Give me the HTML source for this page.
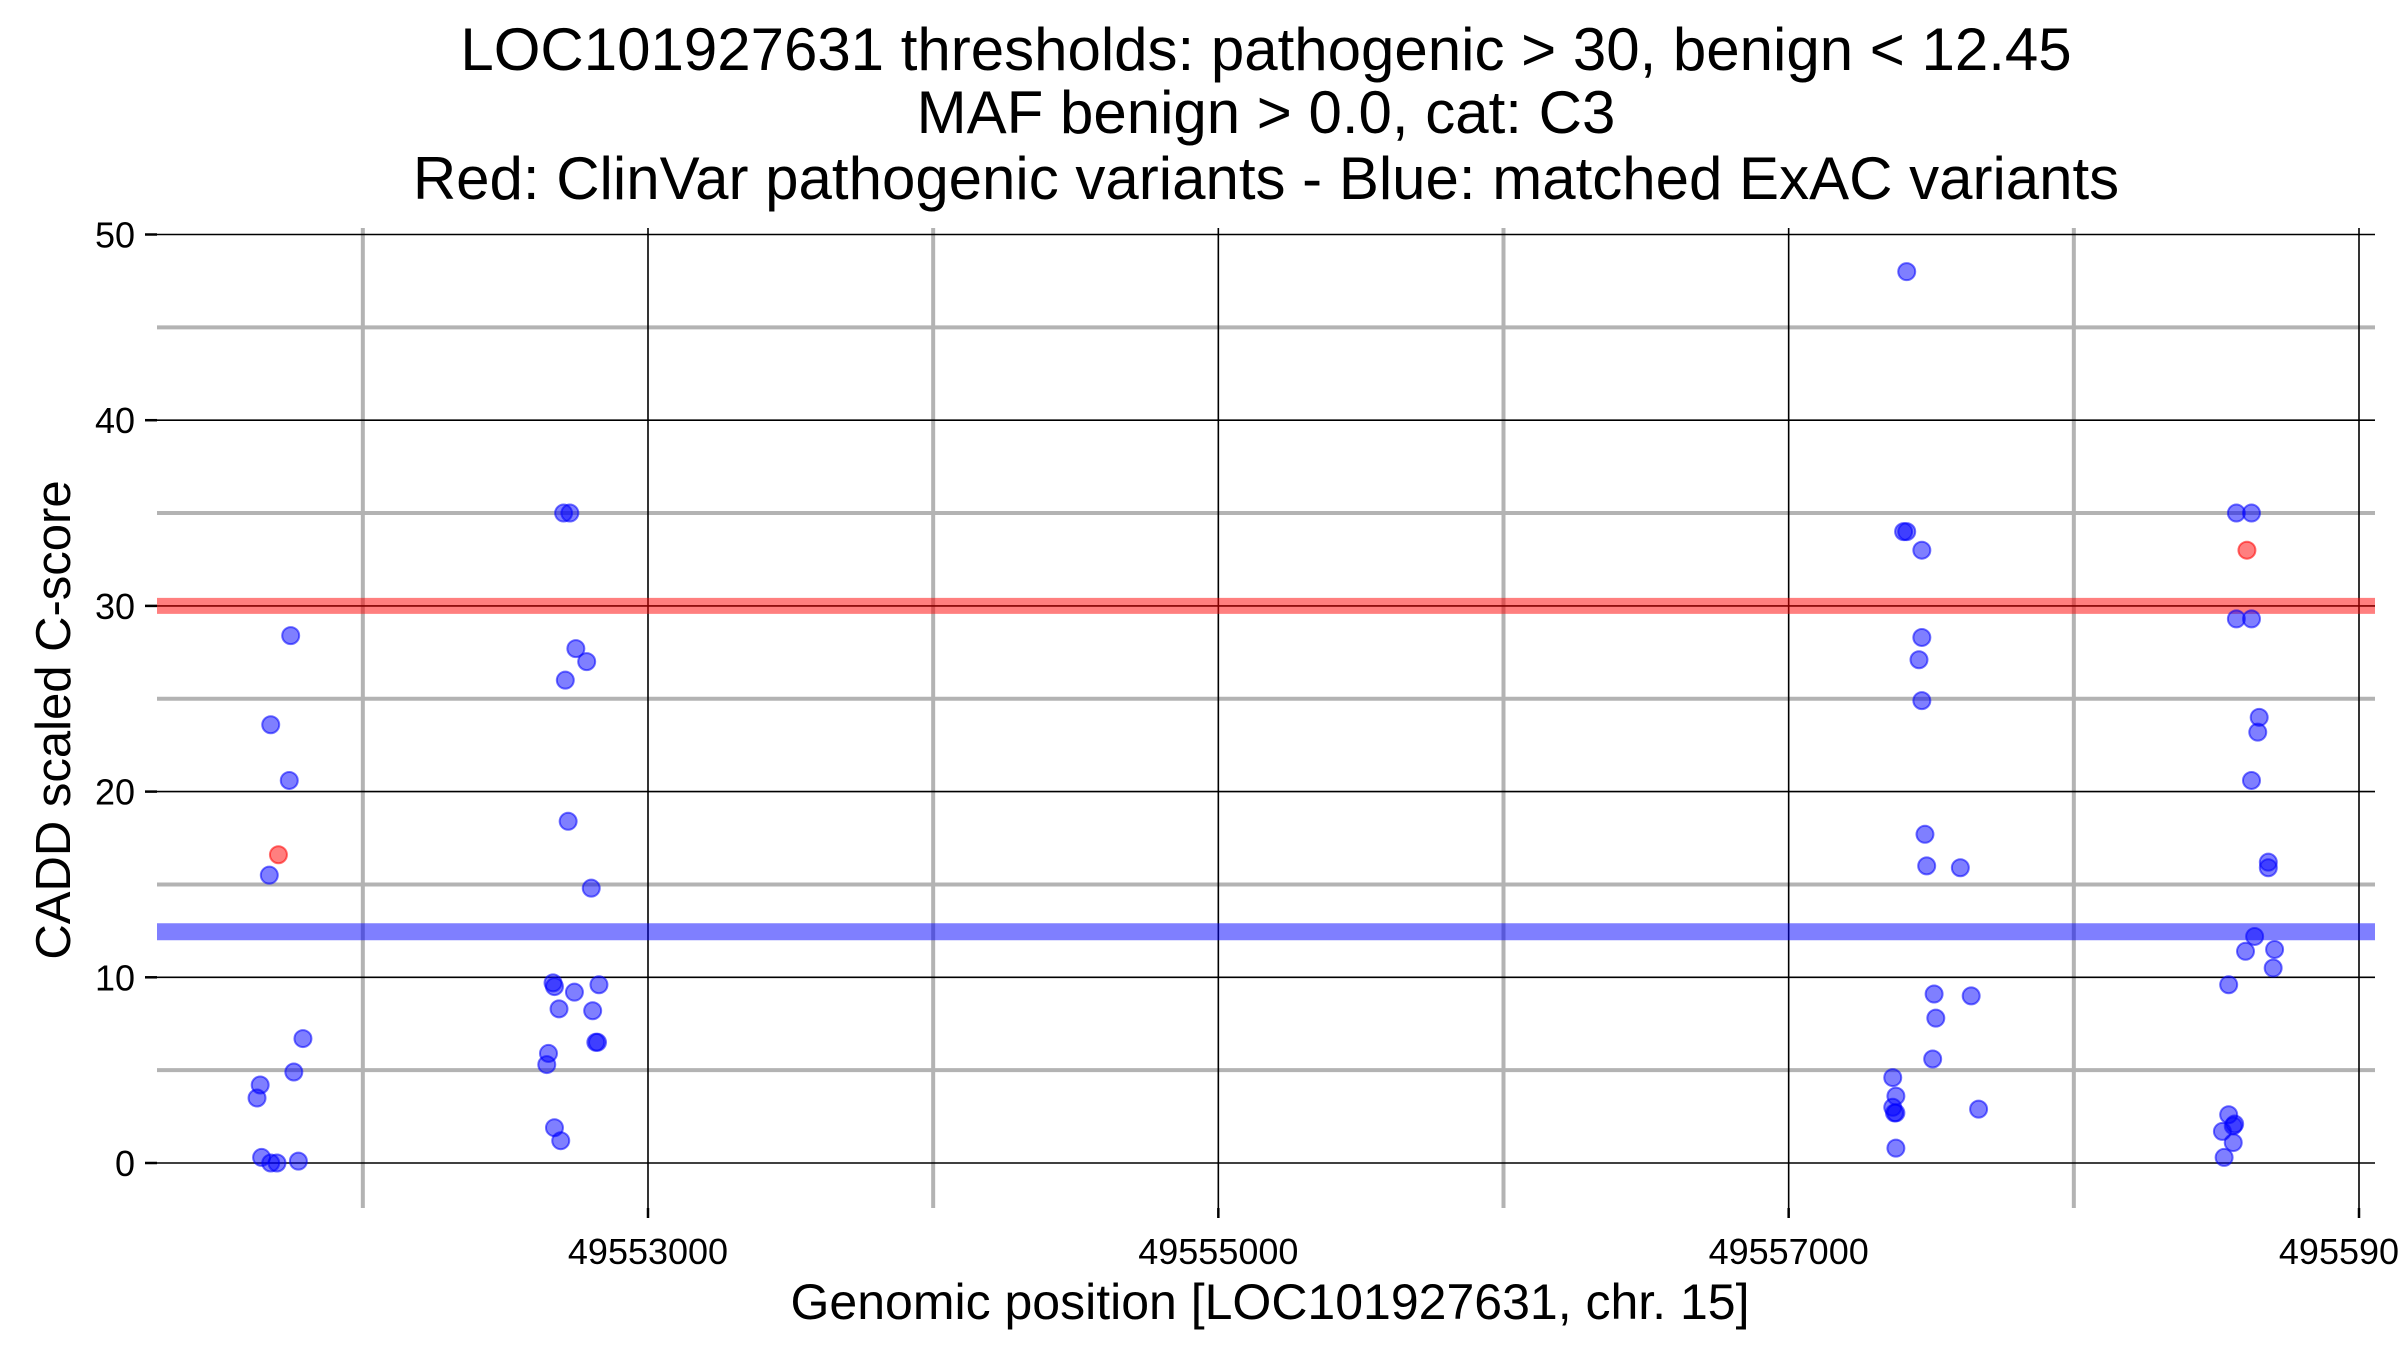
<!DOCTYPE html>
<html><head><meta charset="utf-8"><style>
html,body{margin:0;padding:0;background:#fff;}
svg{display:block;font-family:"Liberation Sans",Arial,sans-serif;}
</style></head><body>
<svg id="chart" width="2400" height="1350" viewBox="0 0 2400 1350" xmlns="http://www.w3.org/2000/svg">
<g font-size="60" text-anchor="middle" fill="#000">
<text x="1266" y="70">LOC101927631 thresholds: pathogenic &gt; 30, benign &lt; 12.45</text>
<text x="1266" y="133">MAF benign &gt; 0.0, cat: C3</text>
<text x="1266" y="199">Red: ClinVar pathogenic variants - Blue: matched ExAC variants</text>
</g>
<g id="grid"></g>
<g id="thresholds"></g>
<g id="points"></g>
<g id="axes" font-size="36" fill="#000"></g>
<text x="1270" y="1319" font-size="50" text-anchor="middle">Genomic position [LOC101927631, chr. 15]</text>
<text transform="translate(70,720) rotate(-90)" font-size="49" text-anchor="middle">CADD scaled C-score</text>
</svg>
<script>
const yMajorTicks = [0, 10, 20, 30, 40, 50];
const yMinorTicks = [5, 15, 25, 35, 45];
const xMajorTicks = [49553000, 49555000, 49557000, 49559000];
const xMinorTicks = [49552000, 49554000, 49556000, 49558000];
const thresholdPathogenic = 30;
const thresholdBenign = 12.45;
const bluePositions = [49551747,49551677,49551742,49551672,49551790,49551758,49551640,49551629,49551645,49551677,49551699,49551774,
 49552704,49552726,49552747,49552785,49552710,49552720,49552801,49552667,49552672,49552828,49552742,49552688,49552806,49552823,49552817,49552651,49552645,49552672,49552694,
 49557414,49557403,49557414,49557467,49557467,49557457,49557467,49557478,49557484,49557602,49557510,49557640,49557516,49557505,49557365,49557376,49557365,49557371,49557376,49557666,49557376,
 49558570,49558623,49558570,49558623,49558650,49558645,49558623,49558682,49558682,49558634,49558602,49558704,49558699,49558543,49558543,49558559,49558564,49558521,49558559,49558527];
const blueScores = [28.4,23.6,20.6,15.5,6.7,4.9,4.2,3.5,0.3,0,0,0.1,
 35,35,27.7,27,26,18.4,14.8,9.7,9.5,9.6,9.2,8.3,8.2,6.5,6.5,5.9,5.3,1.9,1.2,
 48,34,34,33,28.3,27.1,24.9,17.7,16,15.9,9.1,9,7.8,5.6,4.6,3.6,3,2.7,2.7,2.9,0.8,
 35,35,29.3,29.3,24,23.2,20.6,16.2,15.9,12.2,11.4,11.5,10.5,9.6,2.6,2,2.1,1.7,1.1,0.3];
const redPositions = [49551704, 49558607];
const redScores = [16.6, 33];

const NS = 'http://www.w3.org/2000/svg';
const L = 157, R = 2375, T = 228, B = 1208;
function xs(v){ return 648 + (v - 49553000) * (2359 - 648) / 6000; }
function ys(v){ return 1163 - v * (1163 - 234.5) / 50; }
function mk(tag, attrs, parent){ const e = document.createElementNS(NS, tag); for (const k in attrs) e.setAttribute(k, attrs[k]); parent.appendChild(e); return e; }

const grid = document.getElementById('grid');
yMinorTicks.forEach(v => {
  const l = mk('line', {x1:L, x2:R, y1:ys(v), y2:ys(v), stroke:'#b3b3b3', 'stroke-width':4}, grid);
  
  
});
xMinorTicks.forEach(v => {
  const l = mk('line', {x1:xs(v), x2:xs(v), y1:T, y2:B, stroke:'#b3b3b3', 'stroke-width':4}, grid);
  
  
});
yMajorTicks.forEach(v => {
  const l = mk('line', {x1:L, x2:R, y1:ys(v), y2:ys(v), stroke:'#000', 'stroke-width':1.6}, grid);
  
  
});
xMajorTicks.forEach(v => {
  const l = mk('line', {x1:xs(v), x2:xs(v), y1:T, y2:B, stroke:'#000', 'stroke-width':1.6}, grid);
  
  
});

const th = document.getElementById('thresholds');
const tr = mk('line', {x1:L, x2:R, y1:ys(thresholdPathogenic), y2:ys(thresholdPathogenic), stroke:'rgba(255,0,0,0.5)', 'stroke-width':16}, th);


const tb = mk('line', {x1:L, x2:R, y1:ys(thresholdBenign), y2:ys(thresholdBenign), stroke:'rgba(0,0,255,0.5)', 'stroke-width':17}, th);



const pts = document.getElementById('points');
bluePositions.forEach((p, i) => {
  const c = mk('circle', {cx:xs(p), cy:ys(blueScores[i]), r:8.5, fill:'rgba(0,0,255,0.5)', stroke:'rgba(0,0,255,0.55)', 'stroke-width':2}, pts);
  
  
});
redPositions.forEach((p, i) => {
  const c = mk('circle', {cx:xs(p), cy:ys(redScores[i]), r:8.5, fill:'rgba(255,0,0,0.5)', stroke:'rgba(255,0,0,0.55)', 'stroke-width':2}, pts);
  
  
});

const ax = document.getElementById('axes');
yMajorTicks.forEach(v => {
  const t = mk('line', {x1:L-12, x2:L, y1:ys(v), y2:ys(v), stroke:'#000', 'stroke-width':2.5}, ax);
  
  
  const tx = mk('text', {x:L-22, y:ys(v)+13, 'text-anchor':'end'}, ax);
  tx.textContent = String(v);
  
  
});
xMajorTicks.forEach(v => {
  const t = mk('line', {x1:xs(v), x2:xs(v), y1:B, y2:B+10, stroke:'#000', 'stroke-width':2.5}, ax);
  
  
  const tx = mk('text', {x:xs(v), y:B+56, 'text-anchor':'middle'}, ax);
  tx.textContent = String(v);
  
  
});
</script>
</body></html>
